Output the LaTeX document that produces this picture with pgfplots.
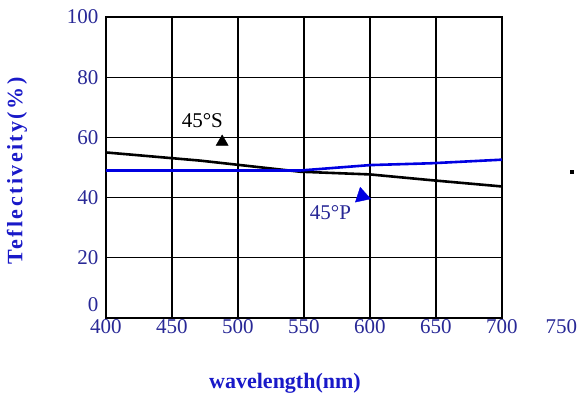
\documentclass[border=0pt]{standalone}
\usepackage{fontspec}
\setmainfont{Liberation Serif}
\usepackage{pgfplots}
\pgfplotsset{compat=1.18}
\definecolor{ticknavy}{RGB}{40,40,150}
\definecolor{lblblue}{RGB}{25,25,200}
\definecolor{lineblue}{RGB}{0,0,225}
\begin{document}
\begin{tikzpicture}
\path[use as bounding box] (-106pt,-84pt) rectangle (476pt,318pt);
\begin{axis}[
 scale only axis, width=396pt, height=301pt,
 at={(0,0)}, anchor=south west,
 xmin=400,xmax=700,ymin=0,ymax=100,
 xtick={400,450,...,700}, ytick={0,20,...,100},
 yticklabels={\raisebox{7pt}[0pt][0pt]{0},20,40,60,80,100},
 grid=major, major grid style={black, line width=1.2pt},
 axis line style={black, line width=1.2pt},
 tick style={draw=none},
 /pgf/number format/assume math mode=true,
 /pgf/number format/1000 sep={},
 ticklabel style={font=\fontsize{21}{22}\selectfont, text=ticknavy},
 xticklabel style={inner sep=1pt},
 yticklabel style={xshift=-4pt},
 xlabel={wavelength(nm)}, ylabel={Teflectiveity(\%)},
 label style={font=\fontsize{22}{24}\selectfont\bfseries, text=lblblue},
 xlabel style={at={(axis description cs:0.452,-0.216)},anchor=center},
 ylabel style={at={(axis description cs:-0.2247,0.488)},anchor=center,font=\fontsize{22}{24}\selectfont\bfseries\addfontfeature{LetterSpace=11}},
 clip=false,
]
\addplot[black, line width=2.6pt] coordinates {(400,55)(471,52.3)(547,48.6)(600,47.7)(646,45.8)(700,43.7)};
\addplot[lineblue, line width=2.6pt] coordinates {(400,49)(547,49)(600,50.8)(646,51.4)(700,52.6)};
\addplot[only marks, mark=triangle*, mark size=7pt, black] coordinates {(488,58.5)};
\addplot[only marks, mark=triangle*, mark size=9pt, lineblue, mark options={rotate=12}] coordinates {(594,40.5)};
\addplot[only marks, mark=square*, mark size=1.5pt, black] coordinates {(753,48.6)};
\node[font=\fontsize{21}{22}\selectfont] at (axis cs:473,65.7) {45°S};
\node[font=\fontsize{21}{22}\selectfont, text=ticknavy] at (axis cs:570,35) {45°P};
\node[font=\fontsize{21}{22}\selectfont, text=ticknavy, anchor=north, inner sep=1pt] at (axis cs:745,0) {750};
\end{axis}
\end{tikzpicture}
\end{document}
